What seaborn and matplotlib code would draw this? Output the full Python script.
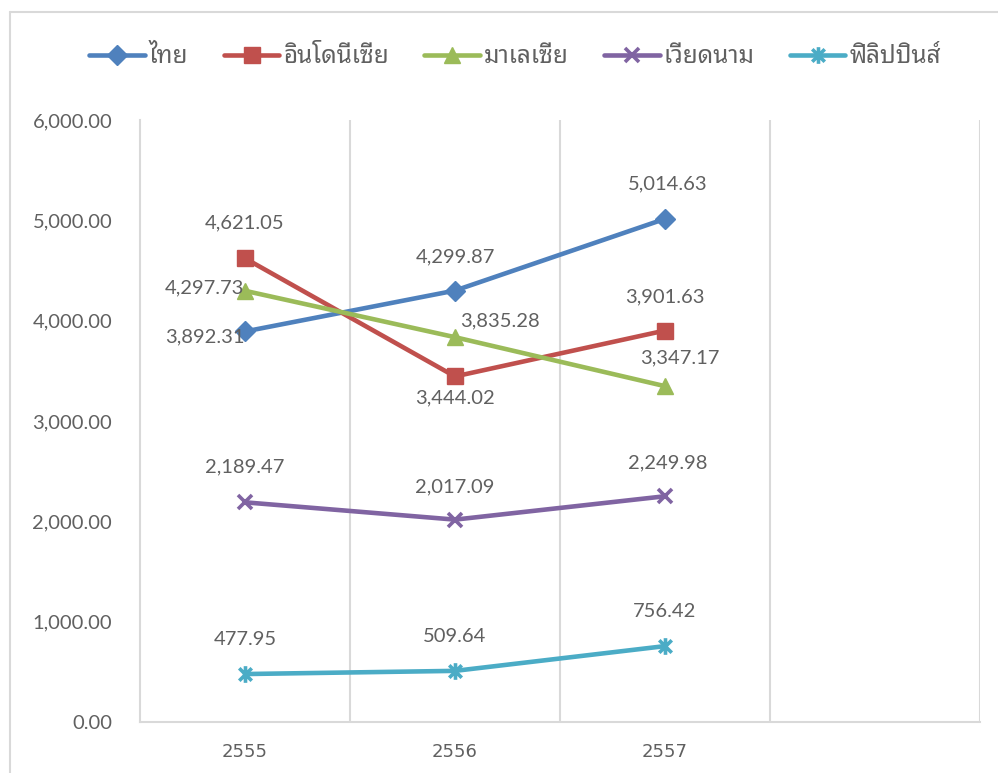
import matplotlib
matplotlib.use('Agg')
import matplotlib.pyplot as plt
from matplotlib.path import Path
from matplotlib.lines import Line2D
import seaborn as sns
import pandas as pd

# ── data ──────────────────────────────────────
years = ['2555', '2556', '2557']
countries = ['ไทย', 'อินโดนีเซีย', 'มาเลเซีย', 'เวียดนาม', 'ฟิลิปปินส์']
thailand = [3892.31, 4299.87, 5014.63]
indonesia = [4621.05, 3444.02, 3901.63]
malaysia = [4297.73, 3835.28, 3347.17]
vietnam = [2189.47, 2017.09, 2249.98]
philippines = [477.95, 509.64, 756.42]
y_ticks = [0, 1000, 2000, 3000, 4000, 5000, 6000]

series = [thailand, indonesia, malaysia, vietnam, philippines]

# ── style ─────────────────────────────────────
sns.set_style('white')
plt.rcParams['font.family'] = ['Lato', 'Noto Sans Thai Looped', 'DejaVu Sans']

colors = ['#4F81BD', '#C0504D', '#9BBB59', '#8064A2', '#4BACC6']
star = Path([(0, -1), (0, 1), (-0.75, -0.75), (0.75, 0.75),
             (-0.75, 0.75), (0.75, -0.75)],
            [Path.MOVETO, Path.LINETO] * 3)
markers = ['D', 's', '^', 'x', star]
msizes = [10, 11.5, 11.5, 10.5, 12]
text_gray = '#606060'
grid_gray = '#D9D9D9'

# label offsets in pixels (dx, dy) per series / point
offsets = [
    [(-40, -5), (0, 34), (3, 35)],
    [(0, 35), (0, -21), (0, 34)],
    [(-41, 3), (45, 16), (15, 28)],
    [(0, 35), (0, 33), (3, 33)],
    [(0, 35), (0, 34), (0, 35)],
]

fig = plt.figure(figsize=(9.98, 7.73), dpi=100)
ax = fig.add_axes([140 / 998, 1 - 722 / 773, 840 / 998, 602 / 773])

handles = []
for i, (name, vals) in enumerate(zip(countries, series)):
    df = pd.DataFrame({'x': range(len(years)), 'y': vals})
    filled = markers[i] in ('D', 's', '^')
    mew = 1 if filled else 2.6
    sns.lineplot(data=df, x='x', y='y', ax=ax, color=colors[i],
                 linewidth=3.3, marker=markers[i], markersize=msizes[i],
                 markeredgecolor=colors[i], markeredgewidth=mew,
                 zorder=3)
    handles.append(Line2D([], [], color=colors[i], linewidth=3.3,
                          marker=markers[i], markersize=msizes[i],
                          markeredgecolor=colors[i], markeredgewidth=mew))
    for j, v in enumerate(vals):
        dx, dy = offsets[i][j]
        ax.annotate(f'{v:,.2f}', (j, v), xytext=(dx, dy),
                    textcoords='offset pixels', ha='center', va='center',
                    fontsize=14.5, color=text_gray, zorder=5)

# category separators like the Excel chart
for b in [0.5, 1.5, 2.5, 3.5]:
    ax.axvline(b, color=grid_gray, linewidth=1.5, zorder=1)

ax.set_xlim(-0.5, 3.5)
ax.set_ylim(0, 6000)
ax.set_xticks(range(len(years)))
ax.set_xticklabels(years, family=['Liberation Sans Narrow', 'DejaVu Sans'],
                   fontsize=13, color=text_gray)
ax.set_yticks(y_ticks)
ax.set_yticklabels([f'{t:,.2f}' for t in y_ticks], fontsize=14.5,
                   color=text_gray)
ax.tick_params(axis='y', length=0, pad=20)
ax.tick_params(axis='x', length=0, pad=15)
ax.set_xlabel('')
ax.set_ylabel('')
for side in ['top', 'right']:
    ax.spines[side].set_visible(False)
for side in ['left', 'bottom']:
    ax.spines[side].set_color(grid_gray)
    ax.spines[side].set_linewidth(1.5)

fig.legend(handles, countries, loc='center', ncol=5,
           bbox_to_anchor=(0.516, 0.926), frameon=False,
           labelcolor=text_gray, handlelength=2.3,
           handletextpad=0.15, columnspacing=1.45,
           prop={'family': ['Noto Sans Thai Looped', 'DejaVu Sans'],
                 'size': 17.5})

# outer chart border
fig.add_artist(Line2D([10 / 998, 1], [1 - 12 / 773, 1 - 12 / 773],
                      color=grid_gray, linewidth=1.5))
fig.add_artist(Line2D([10 / 998, 10 / 998], [0, 1 - 12 / 773],
                      color=grid_gray, linewidth=1.5))

fig.savefig('out.png', dpi=100)
